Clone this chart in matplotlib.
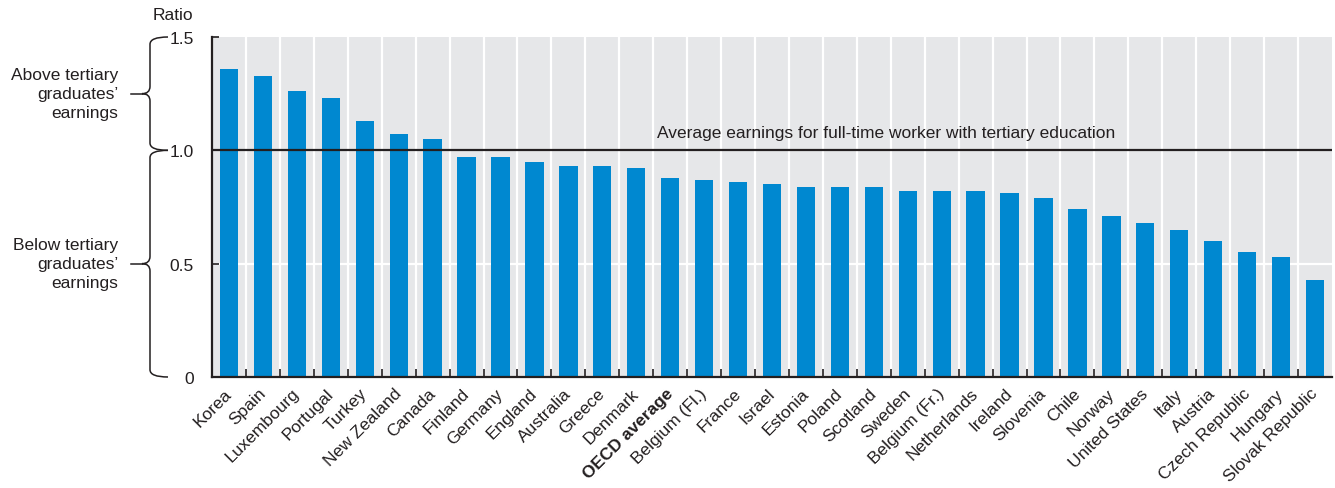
import matplotlib.pyplot as plt
import matplotlib.transforms as mtransforms
from matplotlib.path import Path
from matplotlib.patches import PathPatch
import numpy as np

plt.rcParams['font.family'] = ['Liberation Sans Narrow', 'Liberation Sans', 'DejaVu Sans']

countries = [
    "Korea", "Spain", "Luxembourg", "Portugal", "Turkey", "New Zealand",
    "Canada", "Finland", "Germany", "England", "Australia", "Greece",
    "Denmark", "OECD average", "Belgium (Fl.)", "France", "Israel",
    "Estonia", "Poland", "Scotland", "Sweden", "Belgium (Fr.)",
    "Netherlands", "Ireland", "Slovenia", "Chile", "Norway",
    "United States", "Italy", "Austria", "Czech Republic", "Hungary",
    "Slovak Republic",
]
ratios = [
    1.36, 1.33, 1.26, 1.23, 1.13, 1.07,
    1.05, 0.97, 0.97, 0.95, 0.93, 0.93,
    0.92, 0.88, 0.87, 0.86, 0.85,
    0.84, 0.84, 0.84, 0.82, 0.82,
    0.82, 0.81, 0.79, 0.74, 0.71,
    0.68, 0.65, 0.60, 0.55, 0.53,
    0.43,
]
yticks = [0, 0.5, 1.0, 1.5]
ytick_labels = ["0", "0.5", "1.0", "1.5"]
reference_label = "Average earnings for full-time worker with tertiary education"
above_label = "Above tertiary\ngraduates’\nearnings"
below_label = "Below tertiary\ngraduates’\nearnings"

BAR = "#0088d0"
BG = "#e6e7e9"
INK = "#231f20"

W, H = 1335, 489
fig = plt.figure(figsize=(W / 100, H / 100), dpi=100)
ax = fig.add_axes([212 / W, 1 - 378 / H, 1120 / W, 340 / H])
ax.set_facecolor(BG)

x = np.arange(len(countries))
ax.bar(x, ratios, width=0.54, color=BAR, zorder=3)

ax.set_xlim(-0.5, len(countries) - 0.5)
ax.set_ylim(0, 1.5)

# white separators between countries and a white grid line at 0.5
for b in np.arange(0.5, len(countries) - 0.5, 1):
    ax.axvline(b, color="white", lw=1.6, zorder=1)
ax.axhline(0.5, color="white", lw=1.6, zorder=1)

# reference line at 1.0
ax.axhline(1.0, color=INK, lw=1.6, zorder=4)
ax.text(19.36, 1.045, reference_label, ha="center", va="bottom",
        fontsize=12.5, color=INK, zorder=5)

for s in ["top", "right"]:
    ax.spines[s].set_visible(False)
for s in ["left", "bottom"]:
    ax.spines[s].set_color(INK)
    ax.spines[s].set_linewidth(1.6)
    ax.spines[s].set_zorder(6)

ax.set_yticks(yticks)
ax.set_yticklabels(ytick_labels)
ax.tick_params(axis="y", direction="in", length=5, width=1.2, color=INK,
               pad=13, labelsize=12.5, labelcolor=INK)

ax.set_xticks(x)
ax.set_xticklabels(countries, rotation=45, ha="right", va="top",
                   rotation_mode="anchor", fontsize=12.5, color=INK)
ax.tick_params(axis="x", which="major", length=0, pad=6)
ax.set_xticks(np.arange(0.5, len(countries) - 0.5, 1), minor=True)
ax.tick_params(axis="x", which="minor", direction="in", length=6,
               width=1.2, color=INK)
shift = mtransforms.ScaledTranslation(-5 / 100, 0, fig.dpi_scale_trans)
for lbl in ax.get_xticklabels():
    lbl.set_transform(lbl.get_transform() + shift)
    if lbl.get_text() == "OECD average":
        lbl.set_fontweight("bold")

# braces on the left, x in axes fraction, y in data units
trans = mtransforms.blended_transform_factory(ax.transAxes, ax.transData)


def px(v):
    return (v - 212) / 1120


def brace(y0, y1, r=0.032):
    xe, xs, xn = px(168), px(150), px(142)
    ym = (y0 + y1) / 2
    verts = [
        (xe, y1), (xs, y1), (xs, y1 - r),
        (xs, ym + r),
        (xs, ym), (xn, ym),
        (xs, ym), (xs, ym - r),
        (xs, y0 + r),
        (xs, y0), (xe, y0),
    ]
    codes = [Path.MOVETO, Path.CURVE3, Path.CURVE3,
             Path.LINETO,
             Path.CURVE3, Path.CURVE3,
             Path.CURVE3, Path.CURVE3,
             Path.LINETO,
             Path.CURVE3, Path.CURVE3]
    patch = PathPatch(Path(verts, codes), fill=False, lw=1.1, ec=INK,
                      transform=trans, clip_on=False)
    ax.add_patch(patch)
    ax.plot([px(131), xn], [ym, ym], color=INK, lw=1.1, transform=trans,
            clip_on=False)
    return ym


ym_top = brace(1.0, 1.5)
ym_bot = brace(0.0, 1.0)

ax.text(px(118), ym_top, above_label, transform=trans, ha="right",
        va="center", fontsize=12.5, color=INK, linespacing=1.35)
ax.text(px(118), ym_bot, below_label, transform=trans, ha="right",
        va="center", fontsize=12.5, color=INK, linespacing=1.35)

fig.text(193 / W, 1 - 16 / H, "Ratio", ha="right", va="center",
         fontsize=12.5, color=INK)

fig.savefig("out.png", dpi=100)
